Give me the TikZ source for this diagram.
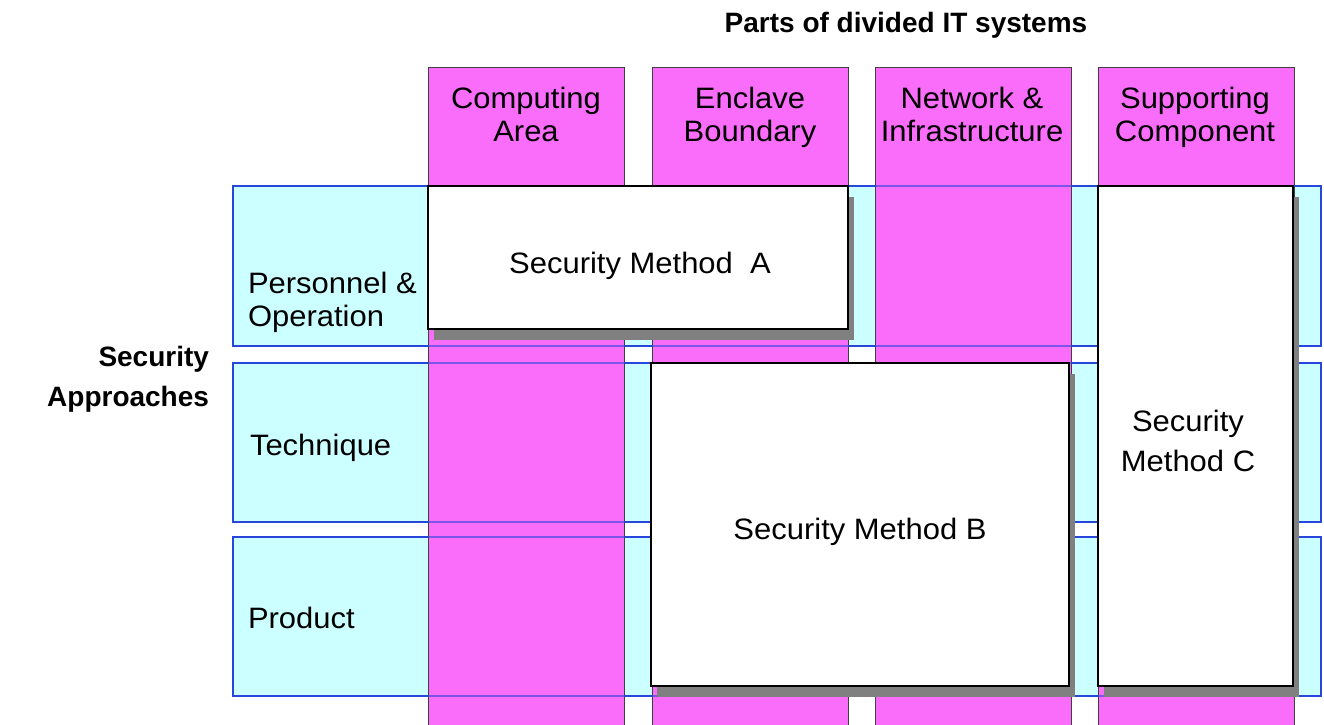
\documentclass[tikz,border=0pt]{standalone}
\usepackage{fontspec}
\setmainfont{Liberation Sans}
\definecolor{cyanfill}{RGB}{204,255,255}
\definecolor{rowblue}{RGB}{40,70,220}
\definecolor{magfill}{RGB}{250,108,250}
\definecolor{shadowgray}{RGB}{128,128,128}
\newfontfamily\labelfont[FakeStretch=1.05]{Liberation Sans}
\begin{document}
\begin{tikzpicture}[x=1pt,y=-1pt,
  every node/.style={inner sep=0pt, outer sep=0pt},
  txt/.style={font=\labelfont\fontsize{29.5}{33}\selectfont, align=center, anchor=base},
  boldtxt/.style={font=\fontsize{28}{40}\selectfont\bfseries, align=right},
  rowbox/.style={draw=rowblue, line width=1.5pt, fill=cyanfill, anchor=north west, minimum width=1088pt},
  rowline/.style={draw=rowblue, line width=1.5pt, opacity=0.6},
  colbox/.style={draw=black!75, line width=1pt, fill=magfill, anchor=north west, minimum width=196pt, minimum height=680pt},
  shadowbox/.style={fill=shadowgray, anchor=north west},
  methodbox/.style={draw=black, line width=1.8pt, fill=white, anchor=north west}
]
\useasboundingbox (0,0) rectangle (1324,724);
\clip (0,0) rectangle (1324,724);
\fill[white] (0,0) rectangle (1324,724);

% title
\node[boldtxt, align=center] (title) at (906,25) {Parts of divided IT systems};
\node[boldtxt, anchor=east] (sa) at (209,379) {Security\\Approaches};

% rows
\node[rowbox, minimum height=160pt] (r1) at (233,186) {};
\node[rowbox, minimum height=159pt] (r2) at (233,363) {};
\node[rowbox, minimum height=159pt] (r3) at (233,537) {};

% columns
\node[colbox] (c1) at (428,67) {};
\node[colbox] (c2) at (652,67) {};
\node[colbox] (c3) at (875,67) {};
\node[colbox] (c4) at (1098,67) {};

% row borders seen through the columns
\draw[rowline] (r1.north west) rectangle (r1.south east);
\draw[rowline] (r2.north west) rectangle (r2.south east);
\draw[rowline] (r3.north west) rectangle (r3.south east);

% column labels (base = last line)
\node[txt] (c1t) at (526,141) {Computing\\Area};
\node[txt] (c2t) at (750,141) {Enclave\\Boundary};
\node[txt] (c3t) at (972,141) {Network \&\\Infrastructure};
\node[txt] (c4t) at (1195,141) {Supporting\\Component};

% row labels
\node[txt, align=left, anchor=base west] (r1t) at (248,326) {Personnel \&\\Operation};
\node[txt, anchor=base west] (r2t) at (250,455) {Technique};
\node[txt, anchor=base west] (r3t) at (248,628) {Product};

% shadows
\node[shadowbox, minimum width=420pt, minimum height=143pt] (sA) at (434,197) {};
\node[shadowbox, minimum width=418pt, minimum height=323pt] (sB) at (657,374) {};
\node[shadowbox, minimum width=195pt, minimum height=500pt] (sC) at (1104,197) {};

% methods
\node[methodbox, minimum width=420pt, minimum height=143pt] (mA) at (428,186) {};
\node[methodbox, minimum width=418pt, minimum height=323pt] (mB) at (651,363) {};
\node[methodbox, minimum width=195pt, minimum height=500pt] (mC) at (1098,186) {};
\node[txt] (mAt) at (640,273) {Security Method~~A};
\node[txt] (mBt) at (860,539) {Security Method B};
\node[txt, font=\labelfont\fontsize{29.5}{40}\selectfont] (mCt) at (1188,471) {Security\\Method C};
\end{tikzpicture}
\end{document}
